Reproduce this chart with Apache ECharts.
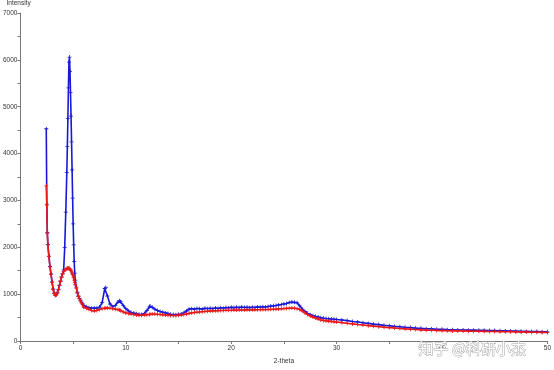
<!DOCTYPE html>
<html>
<head>
<meta charset="utf-8">
<script src="https://cdn.jsdelivr.net/npm/echarts@6/dist/echarts.min.js"></script>
<style>html,body{margin:0;padding:0;background:#fff}#c{width:554px;height:370px}</style>
</head>
<body>
<div id="c"></div>
<script>
// 2-theta positions, segment 1 (low angle, main peak)
var theta1 = [2.45,2.5,2.55,2.6,2.7,2.8,2.9,3.0,3.1,3.2,
  3.3,3.4,3.5,3.6,3.7,3.8,3.9,4.0,4.1,4.2,
  4.3,4.4,4.45,4.5,4.55,4.6,4.65,4.7,4.75,4.8,
  4.85,4.9,4.95,5.0,5.05,5.1,5.15,5.2,5.3,5.4,
  5.5,5.6,5.7,5.8,5.9,6.0];
var blue1 = [4530,2920,2320,2060,1810,1590,1430,1260,1110,1020,
  980,990,1030,1100,1190,1280,1370,1440,1520,2000,
  2750,3600,4150,4750,5400,5950,6060,5750,5300,4800,
  4250,3650,3050,2500,2050,1700,1450,1300,1150,1040,
  960,910,870,830,790,760];
var red1 = [3310,2900,2300,2050,1800,1580,1420,1250,1100,1010,
  970,980,1020,1090,1180,1270,1360,1430,1480,1510,
  1530,1545,1550,1552,1550,1548,1545,1535,1520,1500,
  1475,1450,1420,1390,1350,1300,1250,1200,1130,1020,
  950,900,850,810,770,720];

// segment 2 (6.25 - 30)
var theta2 = [6.25,6.5,6.75,7.0,7.25,7.5,7.75,8.0,8.1,8.25,
  8.5,8.75,9.0,9.25,9.4,9.5,9.75,10.0,10.25,10.5,
  10.75,11.0,11.25,11.5,11.75,12.0,12.25,12.3,12.5,12.75,
  13.0,13.25,13.5,13.75,14.0,14.25,14.5,14.75,15.0,15.25,
  15.5,15.75,16.0,16.25,16.5,16.75,17.0,17.25,17.5,17.75,
  18.0,18.25,18.5,18.75,19.0,19.25,19.5,19.75,20.0,20.25,
  20.5,20.75,21.0,21.25,21.5,21.75,22.0,22.25,22.5,22.75,
  23.0,23.25,23.5,23.75,24.0,24.25,24.5,24.75,25.0,25.25,
  25.5,25.75,26.0,26.25,26.5,26.75,27.0,27.25,27.5,27.75,
  28.0,28.25,28.5,28.75,29.0,29.25,29.5,29.75,30.0];
var blue2 = [730,710,700,705,700,720,820,1120,1140,960,
  790,730,760,830,860,840,760,690,640,610,
  595,580,570,565,585,650,730,745,720,680,
  650,630,615,600,585,570,565,560,570,575,
  600,640,680,690,680,695,690,680,700,690,
  700,690,705,695,710,700,715,705,720,710,
  720,712,725,715,722,712,720,715,728,720,
  730,725,738,745,750,758,768,778,790,800,
  820,830,825,815,750,680,630,590,560,540,
  525,510,495,487,480,474,468,464,460];
var red2 = [700,680,650,640,650,670,690,700,705,705,
  700,690,680,670,662,650,620,600,585,575,
  565,555,550,550,555,560,568,570,575,575,
  570,565,560,555,550,545,545,545,550,555,
  565,575,590,600,610,615,620,625,630,635,
  640,640,645,645,650,650,655,655,655,660,
  660,660,662,662,665,665,665,665,668,668,
  670,670,672,675,678,680,684,688,692,696,
  700,702,700,690,670,640,600,565,535,510,
  490,470,450,440,430,424,418,411,405];

// segment 3 (30.5 - 50)
var theta3 = [30.5,31,31.5,32,32.5,33,33.5,34,34.5,35,
  35.5,36,36.5,37,37.5,38,38.5,39,39.5,40,
  40.5,41,41.5,42,42.5,43,43.5,44,44.5,45,
  45.5,46,46.5,47,47.5,48,48.5,49,49.5,50];
var blue3 = [448,435,416,405,388,376,360,350,334,325,
  312,304,292,286,275,270,261,258,250,249,
  242,241,236,236,232,232,228,228,223,222,
  217,216,211,210,206,205,201,201,197,196];
var red3 = [392,378,365,352,340,328,317,306,295,285,
  276,267,259,251,244,237,232,228,224,221,
  218,216,214,212,210,209,208,206,204,202,
  200,198,196,194,192,190,188,186,184,182];

// axis ticks
var xTicks = [0,10,20,30,40,50];
var yTicks = [0,1000,2000,3000,4000,5000,6000,7000];

function zip(xs, ys){ return xs.map(function(x,i){ return [x, ys[i]]; }); }
var theta = theta1.concat(theta2, theta3);
var blueData = zip(theta, blue1.concat(blue2, blue3));
var redData = zip(theta, red1.concat(red2, red3));

var plus = 'path://M2,0H3V2H5V3H3V5H2V3H0V2H2Z';
var font = 'Liberation Sans';

var chart = echarts.init(document.getElementById('c'), null, {renderer:'canvas'});
chart.setOption({
  animation: false,
  backgroundColor: '#ffffff',
  grid: {left: 17, right: 6, top: 12, bottom: 24, containLabel: false},
  xAxis: {
    type: 'value', min: 0, max: 50, interval: 5,
    name: '2-theta', nameLocation: 'middle', nameGap: 17,
    nameTextStyle: {fontSize: 6.5, color: '#333', fontFamily: font},
    axisLine: {lineStyle: {color: '#777', width: 1}},
    axisTick: {length: 3, lineStyle: {color: '#777'}},
    axisLabel: {fontSize: 6.5, color: '#333', fontFamily: font, margin: 4,
      formatter: function(v){ return xTicks.indexOf(v) >= 0 ? String(v) : ''; }},
    splitLine: {show: false}
  },
  yAxis: {
    type: 'value', min: 0, max: 7000, interval: 500,
    name: 'Intensity', nameLocation: 'end', nameGap: 6,
    nameTextStyle: {fontSize: 6.5, color: '#333', fontFamily: font, align: 'left', padding: [0,0,0,-14]},
    axisLine: {show: true, lineStyle: {color: '#777', width: 1}},
    axisTick: {show: true, length: 3, lineStyle: {color: '#777'}},
    axisLabel: {fontSize: 6.5, color: '#333', fontFamily: font, margin: 3,
      formatter: function(v){ return yTicks.indexOf(v) >= 0 ? String(v) : ''; }},
    splitLine: {show: false}
  },
  series: [
    {type: 'line', data: blueData, symbol: plus, symbolSize: 4, showSymbol: true,
      lineStyle: {color: '#1818d8', width: 1.6}, itemStyle: {color: '#1818d8'}, z: 2},
    {type: 'line', data: redData, symbol: plus, symbolSize: 4, showSymbol: true,
      lineStyle: {color: '#e81818', width: 1.6}, itemStyle: {color: '#e81818'}, z: 3}
  ],
  graphic: [{
    type: 'text', left: 418, top: 340, z: 100,
    style: {text: '知乎 @科研小杰', font: '15px "Noto Sans CJK SC"', fill: '#ffffff', stroke: '#a8a8a8', lineWidth: 1}
  }]
});
</script>
</body>
</html>
